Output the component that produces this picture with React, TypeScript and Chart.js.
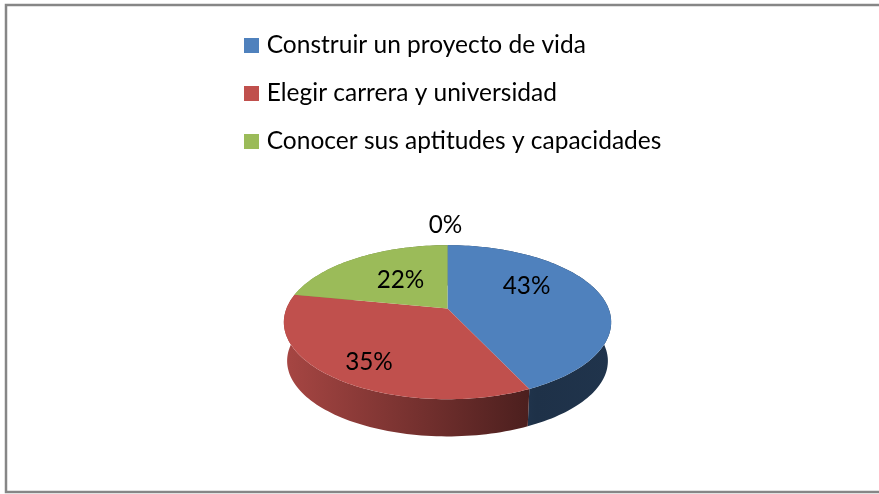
import React, { useEffect, useRef } from "react";
import { Chart, registerables } from "chart.js";

Chart.register(...registerables);

const categories = [
  "Construir un proyecto de vida",
  "Elegir carrera y universidad",
  "Conocer sus aptitudes y capacidades",
  "",
];
const percentages = [43, 35, 22, 0];
const sliceColors = ["#4F81BD", "#C0504D", "#9BBB59", "#8064A2"];

// perspective of the tilted disc
const TILT_Y = 0.463;
const K = 0.1795;
const DEPTH = 39;
const BOTTOM_SCALE = 0.98;
const FONT = "Lato, Carlito, sans-serif";
// radial position and vertical nudge of each percentage label
const labelPlacement = [
  { r: 0.5, dx: 2, dy: -14 },
  { r: 0.78, dx: 8, dy: 2 },
  { r: 0.5, dx: 1, dy: -1 },
  { r: 1, dx: -2, dy: -20 },
];

function project(cx: number, cy: number, R: number, a: number, r = 1) {
  const u = Math.cos(a) * r;
  const v = Math.sin(a) * r;
  const d = 1 - K * v;
  return { x: cx + (R * u) / d, y: cy + (R * TILT_Y * v) / d };
}

function scaleColor(hex: string, f: number) {
  const n = parseInt(hex.slice(1), 16);
  const c = [(n >> 16) & 255, (n >> 8) & 255, n & 255].map((v) => Math.round(v * f));
  return `rgb(${c[0]},${c[1]},${c[2]})`;
}

const framePlugin = {
  id: "frame",
  beforeDraw(chart: any) {
    const ctx = chart.ctx;
    ctx.save();
    ctx.strokeStyle = "#868686";
    ctx.lineWidth = 2.5;
    ctx.beginPath();
    ctx.moveTo(879, 5);
    ctx.lineTo(6, 5);
    ctx.lineTo(6, 492);
    ctx.lineTo(879, 492);
    ctx.stroke();
    ctx.restore();
  },
};

const pie3dPlugin = {
  id: "pie3d",
  beforeDatasetsDraw(chart: any) {
    const ctx = chart.ctx;
    const meta = chart.getDatasetMeta(0);
    const arcs = meta.data as any[];
    const rim = (el: any, rs: number, dy: number) => {
      const pts = [];
      const span = el.endAngle - el.startAngle;
      const steps = Math.max(2, Math.ceil((span / (2 * Math.PI)) * 240));
      for (let s = 0; s <= steps; s++) {
        const p = project(el.x, el.y, el.outerRadius * rs, el.startAngle + (span * s) / steps);
        pts.push({ x: p.x, y: p.y + dy });
      }
      return pts;
    };
    ctx.save();
    // side walls
    arcs.forEach((el, i) => {
      if (el.endAngle - el.startAngle <= 0) return;
      const top = rim(el, 1, 0);
      const bot = rim(el, BOTTOM_SCALE, DEPTH);
      const base = sliceColors[i];
      const g = ctx.createLinearGradient(el.x - 164, 0, el.x + 164, 0);
      g.addColorStop(0, scaleColor(base, 0.87));
      g.addColorStop(0.77, scaleColor(base, 0.38));
      g.addColorStop(1, scaleColor(base, 0.4));
      ctx.beginPath();
      top.forEach((p, k) => (k ? ctx.lineTo(p.x, p.y) : ctx.moveTo(p.x, p.y)));
      bot.reverse().forEach((p) => ctx.lineTo(p.x, p.y));
      ctx.closePath();
      ctx.fillStyle = g;
      ctx.fill();
    });
    // top faces
    arcs.forEach((el) => {
      if (el.endAngle - el.startAngle <= 0) return;
      ctx.beginPath();
      ctx.moveTo(el.x, el.y);
      rim(el, 1, 0).forEach((p) => ctx.lineTo(p.x, p.y));
      ctx.closePath();
      ctx.fillStyle = el.options.backgroundColor;
      ctx.fill();
    });
    // labels
    ctx.fillStyle = "#000000";
    ctx.font = `24.3px ${FONT}`;
    ctx.textAlign = "center";
    ctx.textBaseline = "middle";
    arcs.forEach((el, i) => {
      const mid = (el.startAngle + el.endAngle) / 2;
      const pl = labelPlacement[i];
      const p = project(el.x, el.y, el.outerRadius, mid, pl.r);
      ctx.fillText(`${percentages[i]}%`, p.x + pl.dx, p.y + pl.dy);
    });
    ctx.restore();
    return false;
  },
};

export default function App() {
  const ref = useRef<HTMLCanvasElement>(null);
  useEffect(() => {
    const chart = new Chart(ref.current as HTMLCanvasElement, {
      type: "doughnut",
      data: {
        labels: categories,
        datasets: [
          {
            data: percentages,
            backgroundColor: sliceColors,
            borderWidth: 0,
          },
        ],
      },
      options: {
        responsive: false,
        animation: false,
        events: [],
        cutout: 0,
        radius: 161,
        layout: { padding: { left: 225, right: 209, top: 9.75, bottom: 41 } },
        plugins: {
          tooltip: { enabled: false },
          legend: {
            position: "top",
            align: "start",
            labels: {
              boxWidth: 6,
              boxHeight: 6,
              padding: 23.5,
              color: "#000000",
              font: { family: FONT, size: 24.5, lineHeight: 1 },
              generateLabels: () =>
                categories
                  .map((text, index) => ({
                    text,
                    index,
                    fillStyle: sliceColors[index],
                    strokeStyle: sliceColors[index],
                    lineWidth: 9,
                    hidden: false,
                  }))
                  .filter((it) => it.text !== ""),
            },
          },
        },
      },
      plugins: [framePlugin, pie3dPlugin],
    } as any);
    return () => chart.destroy();
  }, []);
  return (
    <div style={{ position: "absolute", left: 0, top: 0, width: 879, height: 494 }}>
      <canvas ref={ref} width={879} height={494} style={{ display: "block" }} />
    </div>
  );
}
